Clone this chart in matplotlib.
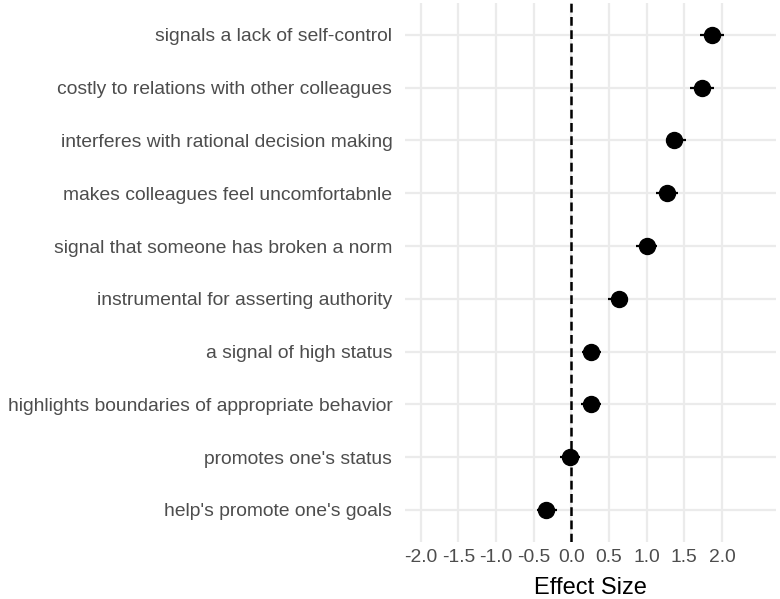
import numpy as np
import matplotlib
matplotlib.use('Agg')
import matplotlib.pyplot as plt

# items, bottom to top
items = ["help's promote one's goals",
         "promotes one's status",
         "highlights boundaries of appropriate behavior",
         "a signal of high status",
         "instrumental for asserting authority",
         "signal that someone has broken a norm",
         "makes colleagues feel uncomfortabnle",
         "interferes with rational decision making",
         "costly to relations with other colleagues",
         "signals a lack of self-control"]
effect = [-0.33, -0.02, 0.26, 0.26, 0.63, 1.00, 1.27, 1.37, 1.74, 1.87]
ci_low = [-0.46, -0.15, 0.13, 0.14, 0.49, 0.86, 1.13, 1.26, 1.58, 1.71]
ci_high = [-0.19, 0.12, 0.39, 0.40, 0.76, 1.14, 1.42, 1.52, 1.90, 2.03]
xticks = [-2.0, -1.5, -1.0, -0.5, 0.0, 0.5, 1.0, 1.5, 2.0]

plt.rcParams['font.family'] = ['Liberation Sans', 'DejaVu Sans']

fig = plt.figure(figsize=(7.8, 5.99), dpi=100)
ax = fig.add_axes([0.519, 0.0957, 0.476, 0.899])

y = np.arange(1, len(items) + 1)
effect = np.array(effect)
# zero reference line
ax.axvline(0, color='black', linestyle=(0, (3.5, 1.8)), linewidth=1.8, zorder=2)
ax.hlines(y, ci_low, ci_high, color='black', linewidth=1.6, zorder=3)
ax.plot(effect, y, 'o', color='black', markersize=11.5, zorder=4)

ax.set_xlim(-2.21, 2.72)
ax.set_ylim(0.4, 10.6)
ax.set_xticks(xticks)
ax.set_xticklabels([f'{t:.1f}' for t in xticks])
ax.set_yticks(y)
ax.set_yticklabels(items)
ax.grid(True, color='#ebebeb', linewidth=1.6, zorder=0)
ax.set_axisbelow(True)
for s in ax.spines.values():
    s.set_visible(False)
ax.tick_params(axis='both', length=0, labelsize=13.85, labelcolor='#4d4d4d')
ax.tick_params(axis='y', pad=9)
ax.tick_params(axis='x', pad=5)
ax.set_xlabel('Effect Size', fontsize=17, labelpad=8)

plt.savefig('out.png', dpi=100)
